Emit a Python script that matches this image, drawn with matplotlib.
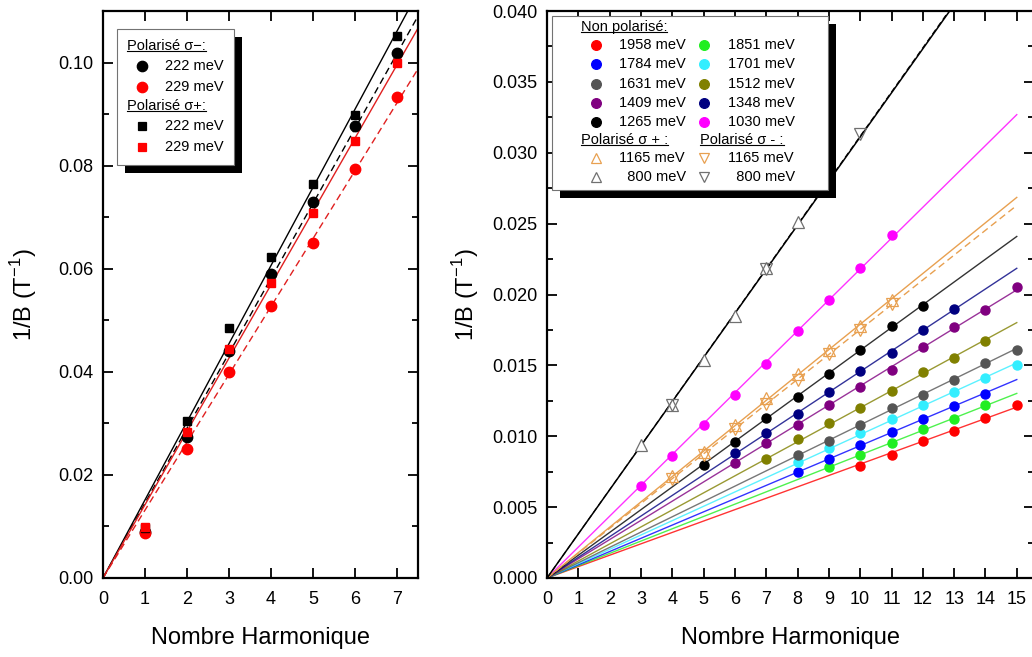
import matplotlib
matplotlib.use('Agg')
import matplotlib.pyplot as plt
import numpy as np
from matplotlib.lines import Line2D
from matplotlib.patches import Rectangle
from matplotlib.offsetbox import AnchoredOffsetbox, DrawingArea, TextArea, HPacker, VPacker
from matplotlib.transforms import IdentityTransform
from matplotlib.ticker import MultipleLocator, FormatStrFormatter

plt.rcParams['font.family'] = ['Liberation Sans', 'DejaVu Sans']
plt.rcParams['mathtext.fontset'] = 'custom'
plt.rcParams['mathtext.rm'] = 'Liberation Sans'

# --- left panel: polarised, 222 / 229 meV
n_left = [1, 2, 3, 4, 5, 6, 7]
sm_222 = [0.0090, 0.0274, 0.0440, 0.0589, 0.0729, 0.0876, 0.1019]
sm_229 = [0.0088, 0.0251, 0.0400, 0.0527, 0.0650, 0.0793, 0.0933]
sp_222 = [0.0097, 0.0304, 0.0485, 0.0622, 0.0764, 0.0899, 0.1051]
sp_229 = [0.0099, 0.0284, 0.0445, 0.0572, 0.0709, 0.0847, 0.0999]

# --- right panel: non polarised
np_labels = ['1958', '1851', '1784', '1701', '1631', '1512', '1409', '1348', '1265', '1030']
np_colors = ['#ff0000', '#22ee22', '#0000ff', '#33eeff', '#555555',
             '#808000', '#800080', '#000080', '#000000', '#ff00ff']
np_x = {
    '1958': [10, 11, 12, 13, 14, 15],
    '1851': [9, 10, 11, 12, 13, 14],
    '1784': [8, 9, 10, 11, 12, 13, 14],
    '1701': [8, 9, 10, 11, 12, 13, 14, 15],
    '1631': [8, 9, 10, 11, 12, 13, 14, 15],
    '1512': [7, 8, 9, 10, 11, 12, 13, 14],
    '1409': [6, 7, 8, 9, 10, 11, 12, 13, 14, 15],
    '1348': [6, 7, 8, 9, 10, 11, 12, 13],
    '1265': [5, 6, 7, 8, 9, 10, 11, 12],
    '1030': [3, 4, 5, 6, 7, 8, 9, 10, 11],
}
np_y = {
    '1958': [0.0079, 0.0087, 0.0097, 0.0104, 0.0113, 0.0122],
    '1851': [0.0078, 0.0087, 0.0095, 0.0105, 0.0112, 0.0122],
    '1784': [0.0075, 0.0084, 0.0094, 0.0103, 0.0112, 0.0121, 0.0130],
    '1701': [0.0082, 0.0092, 0.0102, 0.0112, 0.0122, 0.0131, 0.0141, 0.0150],
    '1631': [0.0087, 0.0097, 0.0108, 0.0120, 0.0129, 0.0140, 0.0152, 0.0161],
    '1512': [0.0084, 0.0098, 0.0109, 0.0120, 0.0132, 0.0145, 0.0155, 0.0167],
    '1409': [0.0081, 0.0095, 0.0108, 0.0122, 0.0135, 0.0147, 0.0163, 0.0177, 0.0189, 0.0205],
    '1348': [0.0088, 0.0102, 0.0116, 0.0131, 0.0146, 0.0159, 0.0175, 0.0190],
    '1265': [0.0080, 0.0096, 0.0113, 0.0128, 0.0144, 0.0161, 0.0178, 0.0192],
    '1030': [0.0065, 0.0086, 0.0108, 0.0129, 0.0151, 0.0174, 0.0196, 0.0219, 0.0242],
}

# polarised sigma+ (up) / sigma- (down)
up_1165_x = [4, 5, 6, 7, 8, 9, 10, 11]
up_1165_y = [0.0072, 0.0089, 0.0108, 0.0127, 0.0144, 0.0161, 0.0178, 0.0196]
dn_1165_x = [4, 5, 6, 7, 8, 9, 10, 11]
dn_1165_y = [0.0070, 0.0087, 0.0105, 0.0123, 0.0140, 0.0158, 0.0175, 0.0193]
up_800_x = [3, 4, 5, 6, 7, 8]
up_800_y = [0.0094, 0.0122, 0.0154, 0.0185, 0.0219, 0.0251]
dn_800_x = [4, 7, 10]
dn_800_y = [0.0122, 0.0218, 0.0313]

ORANGE = '#e8a050'
GREY = '#707070'


def fit_line(ax, x, y, xmax, **kw):
    # straight line through the origin, least squares
    x = np.asarray(x, float)
    y = np.asarray(y, float)
    slope = np.sum(x * y) / np.sum(x * x)
    xs = np.array([0.0, xmax])
    ax.plot(xs, slope * xs, **kw)


fig = plt.figure(figsize=(10.32, 6.57), dpi=100)
ax1 = fig.add_axes([103 / 1032, 79 / 657, 315 / 1032, 567 / 657])
ax2 = fig.add_axes([547 / 1032, 79 / 657, 487 / 1032, 567 / 657])

# left panel
fit_line(ax1, n_left, sp_222, 7.5, color='k', lw=1.0)
fit_line(ax1, n_left, sm_222, 7.5, color='k', lw=1.0, ls=(0, (5, 3)))
fit_line(ax1, n_left, sp_229, 7.5, color='#e02020', lw=1.0)
fit_line(ax1, n_left, sm_229, 7.5, color='#e02020', lw=1.0, ls=(0, (5, 3)))
ax1.plot(n_left, sm_222, 'o', color='k', ms=7.5, zorder=3)
ax1.plot(n_left, sm_229, 'o', color='#ff0000', ms=7.5, zorder=3)
ax1.plot(n_left, sp_222, 's', color='k', ms=6, zorder=3)
ax1.plot(n_left, sp_229, 's', color='#ff0000', ms=6, zorder=3)
ax1.set_xlim(0, 7.5)
ax1.set_ylim(0, 0.11)
ax1.xaxis.set_major_locator(MultipleLocator(1))
ax1.yaxis.set_major_locator(MultipleLocator(0.02))
ax1.yaxis.set_minor_locator(MultipleLocator(0.01))
ax1.yaxis.set_major_formatter(FormatStrFormatter('%.2f'))

# right panel
for lab, col in zip(np_labels, np_colors):
    fit_line(ax2, np_x[lab], np_y[lab], 15, color=col, lw=1.0, alpha=0.8)
fit_line(ax2, up_1165_x, up_1165_y, 15, color=ORANGE, lw=1.0)
fit_line(ax2, dn_1165_x, dn_1165_y, 15, color=ORANGE, lw=1.0, ls=(0, (5, 3)))
fit_line(ax2, up_800_x, up_800_y, 15, color='k', lw=1.1)
fit_line(ax2, dn_800_x, dn_800_y, 15, color='k', lw=0.8, ls=(0, (5, 3)))
for lab, col in zip(np_labels, np_colors):
    ax2.plot(np_x[lab], np_y[lab], 'o', color=col, ms=6.5, zorder=3)
ax2.plot(up_1165_x, up_1165_y, '^', mfc='none', mec=ORANGE, ms=8, mew=0.9, zorder=3)
ax2.plot(dn_1165_x, dn_1165_y, 'v', mfc='none', mec=ORANGE, ms=8, mew=0.9, zorder=3)
ax2.plot(up_800_x, up_800_y, '^', mfc='white', mec=GREY, ms=8, mew=0.9, zorder=3)
ax2.plot(dn_800_x, dn_800_y, 'v', mfc='none', mec=GREY, ms=8, mew=0.9, zorder=3)
ax2.set_xlim(0, 15.55)
ax2.set_ylim(0, 0.040)
ax2.xaxis.set_major_locator(MultipleLocator(1))
ax2.yaxis.set_major_locator(MultipleLocator(0.005))
ax2.yaxis.set_minor_locator(MultipleLocator(0.0025))
ax2.yaxis.set_major_formatter(FormatStrFormatter('%.3f'))

for ax, ypad in ((ax1, 14), (ax2, 8)):
    ax.tick_params(which='both', direction='in', top=True, right=True,
                   width=1.3, labelsize=13, pad=7)
    ax.tick_params(axis='x', pad=9)
    ax.tick_params(which='major', length=7)
    ax.tick_params(which='minor', length=4)
    for s in ax.spines.values():
        s.set_linewidth(1.6)
    ax.set_xlabel('Nombre Harmonique', fontsize=17, labelpad=14)
    ax.set_ylabel('1/B (T$^{-1}$)', fontsize=17, labelpad=ypad)

# --- legends built by hand (underlined headers, black drop shadow)
FS = 10.5
headers = []


def header(text):
    ta = TextArea(text, textprops=dict(fontsize=FS))
    headers.append(ta)
    return ta


def entry(label, color, marker='o', ms=7, filled=True):
    da = DrawingArea(21.6, 12, 0, 0)
    da.add_artist(Line2D([10.8], [6], ls='none', marker=marker, ms=ms,
                         mec=color, mfc=color if filled else 'none', mew=0.9))
    return HPacker(children=[da, TextArea(label, textprops=dict(fontsize=FS))],
                   sep=6, align='center')


left_box = VPacker(children=[
    header('Polarisé σ−:'),
    entry('222 meV', 'k', 'o', 7.5),
    entry('229 meV', '#ff0000', 'o', 7.5),
    header('Polarisé σ+:'),
    entry('222 meV', 'k', 's', 6),
    entry('229 meV', '#ff0000', 's', 6),
], sep=3, align='left')

col1 = [entry(f'{l} meV', np_colors[np_labels.index(l)], 'o', 7)
        for l in ['1958', '1784', '1631', '1409', '1265']]
col1 += [header('Polarisé σ + :'),
         entry('1165 meV', ORANGE, '^', 7, False),
         entry('  800 meV', GREY, '^', 7, False)]
col2 = [entry(f'{l} meV', np_colors[np_labels.index(l)], 'o', 7)
        for l in ['1851', '1701', '1512', '1348', '1030']]
col2 += [HPacker(children=[DrawingArea(8, 1), header('Polarisé σ - :')], sep=0),
         entry('1165 meV', ORANGE, 'v', 7, False),
         entry('  800 meV', GREY, 'v', 7, False)]
right_inner = VPacker(children=[
    header('Non polarisé:'),
    HPacker(children=[VPacker(children=col1, sep=1.8, align='left'),
                      VPacker(children=col2, sep=1.8, align='left')], sep=2, align='top'),
], sep=1.8, align='left')
right_box = HPacker(children=[DrawingArea(17.7, 1), right_inner, DrawingArea(20.6, 1)],
                    sep=0, align='center')

boxes = []
for ax, child, anchor, pad in [(ax1, left_box, (0.044, 0.968), 0.7),
                               (ax2, right_box, (0.0103, 0.991), 0.3)]:
    ab = AnchoredOffsetbox(loc='upper left', child=child, pad=pad, borderpad=0,
                           frameon=True, bbox_to_anchor=anchor,
                           bbox_transform=ax.transAxes, prop=dict(size=FS))
    ab.patch.set_boxstyle('square', pad=0)
    ab.patch.set_edgecolor('0.45')
    ab.patch.set_linewidth(0.8)
    ab.set_zorder(6)
    ax.add_artist(ab)
    boxes.append((ax, ab))

fig.canvas.draw()
renderer = fig.canvas.get_renderer()
for ax, ab in boxes:
    bb = ab.get_window_extent(renderer)
    ax.add_artist(Rectangle((bb.x0 + 8, bb.y0 - 8), bb.width, bb.height,
                            transform=IdentityTransform(), facecolor='k',
                            edgecolor='none', zorder=5.5, clip_on=False))
for ta in headers:
    tb = ta._text.get_window_extent(renderer)
    fig.add_artist(Line2D([tb.x0, tb.x1], [tb.y0 + 2, tb.y0 + 2],
                          transform=IdentityTransform(), color='k', lw=0.8, zorder=10))

fig.savefig('out.png', dpi=100)
